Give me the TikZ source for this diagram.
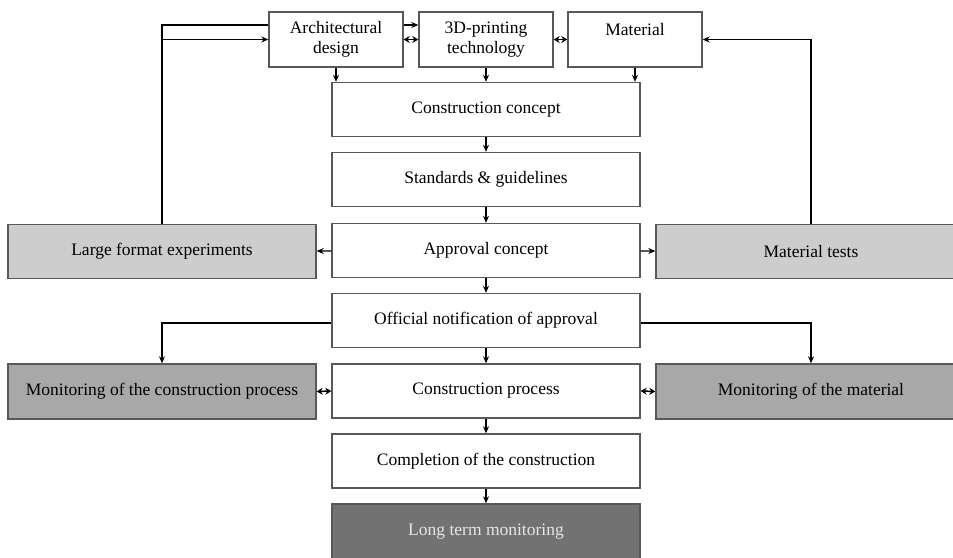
\documentclass[tikz,border=0pt]{standalone}
\usepackage{fontspec}
\setmainfont{Liberation Serif}
\usepackage{xcolor}
\usetikzlibrary{arrows.meta,positioning,calc}

\definecolor{boxline}{HTML}{585858}
\definecolor{lightfill}{HTML}{CDCDCD}
\definecolor{midfill}{HTML}{A8A8A8}
\definecolor{darkfill}{HTML}{727272}
\definecolor{palefont}{HTML}{E6E6E6}

\begin{document}
\begin{tikzpicture}[x=1pt, y=-1pt,
  blk/.style={draw=boxline, line width=1.4pt, fill=white, align=center,
    minimum width=308pt, minimum height=54pt, inner sep=2pt,
    font=\fontsize{17.5}{20.5}\selectfont},
  topblk/.style={blk, minimum width=134pt, minimum height=55pt},
  arr/.style={-{Stealth[length=7pt, width=6pt]}, line width=1.3pt},
  dbl/.style={{Stealth[length=6pt, width=7pt]}-{Stealth[length=6pt, width=7pt]}, line width=1.5pt},
  ln/.style={line width=1.3pt}]
\useasboundingbox (0,0) rectangle (953,557);
\clip (0,0) rectangle (953,557);

% top row
\node[topblk] (arch) at (336,39.5) {Architectural\\design};
\node[topblk] (tech) at (486,39.5) {3D-printing\\technology};
\node[topblk, text depth=20pt] (mat) at (635,39.5) {Material};

% main chain
\node[blk] (concept)  at (486,109.5) {Construction concept};
\node[blk] (stand)    at (486,179.5) {Standards \& guidelines};
\node[blk] (approval) at (486,250.5) {Approval concept};
\node[blk] (notice)   at (486,320.5) {Official notification of approval};
\node[blk] (process)  at (486,391)   {Construction process};
\node[blk] (complete) at (486,461)   {Completion of the construction};
\node[blk, fill=darkfill, text=palefont, minimum height=56pt] (longterm) at (486,532) {Long term monitoring};

% side boxes
\node[blk, fill=lightfill] (large) at (162,251.5) {Large format experiments};
\node[blk, fill=lightfill, minimum width=310pt] (tests) at (811,251.5) {Material tests};
\node[blk, fill=midfill, minimum height=55pt] (monproc) at (162,391.5) {Monitoring of the construction process};
\node[blk, fill=midfill, minimum width=310pt, minimum height=55pt] (monmat) at (811,391.5) {Monitoring of the material};

% top connections
\draw[arr] ([yshift=14.5pt]arch.east) -- ([yshift=14.5pt]tech.west);
\draw[dbl] (arch.east) -- (tech.west);
\draw[dbl] (tech.east) -- (mat.west);
\draw[arr] (arch.south) -- (arch.south|-concept.north);
\draw[arr] (tech.south) -- (concept.north);
\draw[arr] (mat.south) -- (mat.south|-concept.north);

% chain
\draw[arr] (concept) -- (stand);
\draw[arr] (stand) -- (approval);
\draw[arr] (approval) -- (notice);
\draw[arr] (notice) -- (process);
\draw[arr] (process) -- (complete);
\draw[arr] (complete) -- (longterm);

% side branches
\draw[arr] (approval) -- (large);
\draw[arr] (approval) -- (tests);
\draw[ln] (large.north) |- ([yshift=14.5pt]arch.west);
\draw[arr] (large.north) |- (arch.west);
\draw[arr] (tests.north) |- (mat.east);
\draw[arr] ([yshift=-2.5pt]notice.west) -| (monproc.north);
\draw[arr] ([yshift=-2.5pt]notice.east) -| (monmat.north);
\draw[dbl] (monproc.east) -- (process.west);
\draw[dbl] (process.east) -- (monmat.west);
\end{tikzpicture}
\end{document}
